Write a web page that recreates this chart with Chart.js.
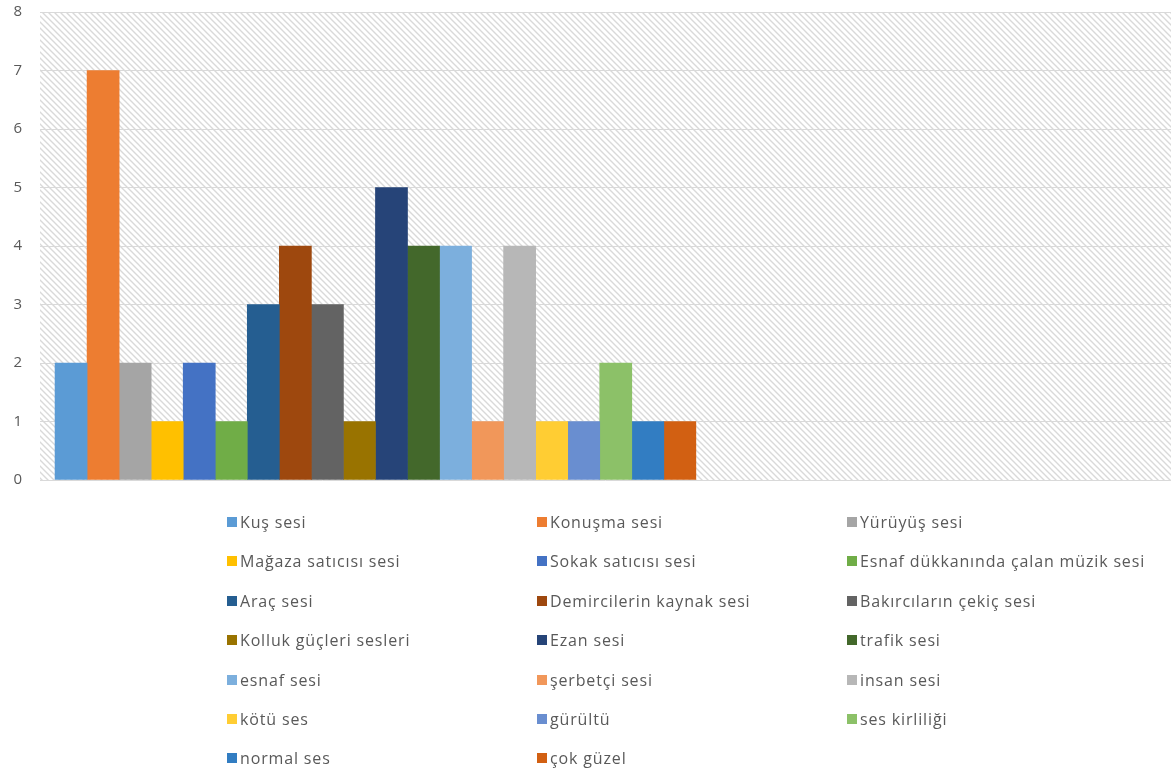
<!DOCTYPE html>
<html lang="tr">
<head>
<meta charset="utf-8">
<title>Çarşıda duyulan sesler</title>
<script src="https://cdn.jsdelivr.net/npm/chart.js@4/dist/chart.umd.min.js"></script>
<style>
  body { margin: 0; background: #fff; }
  #wrap { position: relative; width: 1171px; height: 775px; }
  #legend {
    position: absolute; left: 227px; top: 512px;
    display: grid; grid-template-columns: 310px 310px 310px; grid-auto-rows: 39.4px;
    font: 16px 'Open Sans', sans-serif; color: #595959; letter-spacing: .85px;
  }
  .item { display: flex; align-items: center; height: 20px; white-space: nowrap; }
  .box { width: 10px; height: 10px; margin-right: 3px; flex: none; }
</style>
</head>
<body>
<div id="wrap">
  <canvas id="chart"></canvas>
  <div id="legend"></div>
</div>
<script>
const sesler = [
  'Kuş sesi', 'Konuşma sesi', 'Yürüyüş sesi',
  'Mağaza satıcısı sesi', 'Sokak satıcısı sesi', 'Esnaf dükkanında çalan müzik sesi',
  'Araç sesi', 'Demircilerin kaynak sesi', 'Bakırcıların çekiç sesi',
  'Kolluk güçleri sesleri', 'Ezan sesi', 'trafik sesi',
  'esnaf sesi', 'şerbetçi sesi', 'insan sesi',
  'kötü ses', 'gürültü', 'ses kirliliği',
  'normal ses', 'çok güzel'
];

const sayilar = [2, 7, 2, 1, 2, 1, 3, 4, 3, 1, 5, 4, 4, 1, 4, 1, 1, 2, 1, 1];

const renkler = [
  '#5b9bd5', '#ed7d31', '#a5a5a5', '#ffc000', '#4472c4', '#70ad47',
  '#255e91', '#9e480e', '#636363', '#997300', '#264478', '#43682b',
  '#7cafdd', '#f1975a', '#b7b7b7', '#ffcd33', '#698ed0', '#8cc168',
  '#327dc2', '#d26012'
];

const yTicks = [0, 1, 2, 3, 4, 5, 6, 7, 8];

// excel style "wide downward diagonal" fill behind the plot
function hatch() {
  const s = 6;
  const c = document.createElement('canvas');
  c.width = s; c.height = s;
  const g = c.getContext('2d');
  g.strokeStyle = '#d9d9d9';
  g.lineWidth = 1.4;
  g.beginPath();
  g.moveTo(0, 0); g.lineTo(s, s);
  g.moveTo(-1, s - 1); g.lineTo(1, s + 1);
  g.moveTo(s - 1, -1); g.lineTo(s + 1, 1);
  g.stroke();
  return g.createPattern(c, 'repeat');
}

const plotFill = {
  id: 'plotFill',
  beforeDraw(chart) {
    const { ctx, chartArea: a } = chart;
    ctx.save();
    ctx.fillStyle = hatch();
    ctx.fillRect(a.left, a.top, a.right - a.left, a.bottom - a.top);
    ctx.restore();
  }
};

const datasets = sesler.map((ad, i) => ({
  label: ad,
  data: [{ x: i + 1, y: sayilar[i] }],
  backgroundColor: renkler[i],
  grouped: false,
  barPercentage: 1,
  categoryPercentage: 1,
}));

const chart = new Chart(document.getElementById('chart'), {
  type: 'bar',
  data: { datasets },
  options: {
    responsive: true,
    maintainAspectRatio: false,
    animation: false,
    layout: { padding: { top: 12, right: 0, bottom: 295, left: 0 } },
    plugins: {
      legend: { display: false },
      tooltip: { enabled: false },
    },
    scales: {
      x: {
        type: 'linear',
        display: false,
        offset: false,
        min: 0.03,
        max: 35.33,
        ticks: { stepSize: 1, includeBounds: false },
      },
      y: {
        min: 0,
        max: 8,
        afterFit(scale) {
          scale.width = 40;
          scale.paddingTop = 0;
          scale.paddingBottom = 0;
        },
        afterBuildTicks(scale) { scale.ticks = yTicks.map(v => ({ value: v })); },
        border: { display: false },
        grid: { color: '#d9d9d9', drawTicks: false },
        ticks: {
          padding: 18,
          color: '#595959',
          font: { family: 'Open Sans', size: 15 },
        },
      },
    },
  },
  plugins: [plotFill],
});

const legend = document.getElementById('legend');
chart.data.datasets.forEach(ds => {
  const item = document.createElement('div');
  item.className = 'item';
  const box = document.createElement('span');
  box.className = 'box';
  box.style.background = ds.backgroundColor;
  const txt = document.createElement('span');
  txt.textContent = ds.label;
  item.appendChild(box);
  item.appendChild(txt);
  legend.appendChild(item);
});
</script>
</body>
</html>
